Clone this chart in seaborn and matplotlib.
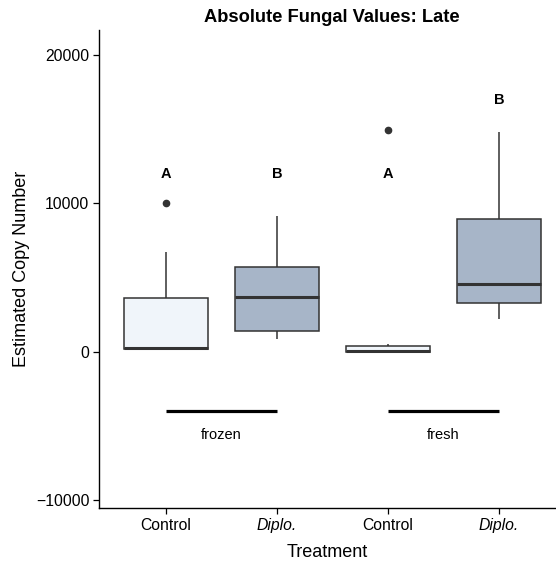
import matplotlib
matplotlib.use("Agg")
import matplotlib.pyplot as plt
import seaborn as sns
import pandas as pd

# ---- data ----
groups = ["frozen_Control", "frozen_Diplo", "fresh_Control", "fresh_Diplo"]
treatments = ["Control", "Diplo.", "Control", "Diplo."]
frozen_control = [150, 180, 200, 260, 300, 1500, 3640, 6730, 10050]
frozen_diplo = [850, 1100, 1430, 2500, 3700, 4800, 5700, 7000, 9160]
fresh_control = [0, 0, 0, 50, 90, 300, 430, 520, 14950]
fresh_diplo = [2200, 2900, 3320, 4000, 4560, 6500, 8940, 12000, 14830]
group_values = [frozen_control, frozen_diplo, fresh_control, fresh_diplo]

letters = ["A", "B", "A", "B"]
letter_y = [12000, 12000, 12000, 17000]

storage_labels = ["frozen", "fresh"]
storage_start = [0, 2]
storage_end = [1, 3]
storage_y = -4000
storage_text_y = -5600

tick_labels = ["Control", "Diplo.", "Control", "Diplo."]
yticks = [-10000, 0, 10000, 20000]

rows = []
for g, t, vals in zip(groups, treatments, group_values):
    for v in vals:
        rows.append({"group": g, "Treatment": t, "value": v})
df = pd.DataFrame(rows)

palette = {"Control": "#EEF5FC", "Diplo.": "#A2B4CD"}

sns.set_style("white")
plt.rcParams["font.family"] = ["Liberation Sans", "DejaVu Sans"]

fig = plt.figure(figsize=(5.56, 5.65), dpi=100)
ax = fig.add_axes([99 / 556, 1 - 508 / 565, (556 - 99) / 556, (508 - 30) / 565])

sns.boxplot(data=df, x="group", y="value", hue="Treatment", order=groups,
            palette=palette, dodge=False, width=0.75, legend=False,
            linewidth=1.1, linecolor="#333333", ax=ax, showcaps=False,
            medianprops=dict(color="#333333", linewidth=2.2),
            flierprops=dict(marker="o", markerfacecolor="#333333",
                            markeredgecolor="#333333", markersize=4.5))

for i, (lt, ly) in enumerate(zip(letters, letter_y)):
    ax.text(i, ly, lt, ha="center", va="center", fontsize=10.5,
            fontweight="bold", color="black")

for lab, s, e in zip(storage_labels, storage_start, storage_end):
    ax.plot([s, e], [storage_y, storage_y], color="black", linewidth=2.3,
            solid_capstyle="butt")
    ax.text((s + e) / 2, storage_text_y, lab, ha="center", va="center",
            fontsize=10.5, color="black")

ax.set_xlim(-0.604, 3.514)
ax.set_ylim(-10505, 21680)
ax.set_yticks(yticks)
ax.set_xticks(range(4))
ax.set_xticklabels(tick_labels)
for lbl in ax.get_xticklabels():
    if lbl.get_text().startswith("Diplo"):
        lbl.set_fontstyle("italic")

ax.tick_params(axis="both", which="both", length=4, width=0.9, color="black",
               labelsize=11.3, labelcolor="black", pad=3, left=True, bottom=True)
for side in ["top", "right"]:
    ax.spines[side].set_visible(False)
for side in ["left", "bottom"]:
    ax.spines[side].set_color("black")
    ax.spines[side].set_linewidth(1.0)

ax.set_xlabel("Treatment", fontsize=13, color="black", labelpad=8)
ax.set_ylabel("Estimated Copy Number", fontsize=13, color="black", labelpad=4)

fig.text(332 / 556, 1 - 17 / 565, "Absolute Fungal Values: Late", ha="center",
         va="center", fontsize=13.2, fontweight="bold", color="black")

fig.savefig("out.png", dpi=100)
